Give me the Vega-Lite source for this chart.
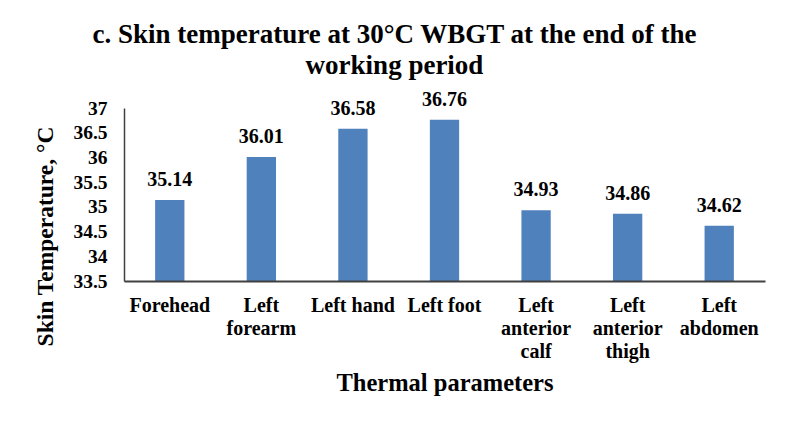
{
  "$schema": "https://vega.github.io/schema/vega-lite/v6.json",
  "autosize": "none",
  "width": 641,
  "height": 173,
  "padding": {"left": 124, "top": 108, "right": 20, "bottom": 142},
  "background": "white",
  "title": {
    "text": ["c. Skin temperature at 30°C WBGT at the end of the", "working period"],
    "font": "Liberation Serif",
    "fontSize": 27,
    "fontWeight": "bold",
    "color": "#000000",
    "anchor": "middle",
    "dx": -50,
    "lineHeight": 31,
    "offset": 10
  },
  "data": {
    "values": [
      {"part": "Forehead", "temp": 35.14},
      {"part": "Left forearm", "temp": 36.01},
      {"part": "Left hand", "temp": 36.58},
      {"part": "Left foot", "temp": 36.76},
      {"part": "Left anterior calf", "temp": 34.93},
      {"part": "Left anterior thigh", "temp": 34.86},
      {"part": "Left abdomen", "temp": 34.62}
    ]
  },
  "encoding": {
    "x": {
      "field": "part",
      "type": "nominal",
      "sort": null,
      "scale": {"paddingInner": 0.68, "paddingOuter": 0.34},
      "axis": {
        "title": "Thermal parameters",
        "titleFont": "Liberation Serif",
        "titleFontSize": 24.5,
        "titleFontWeight": "bold",
        "titleColor": "#000000",
        "titleBaseline": "alphabetic",
        "titleY": 109,
        "labelFont": "Liberation Serif",
        "labelFontSize": 20,
        "labelFontWeight": "bold",
        "labelColor": "#000000",
        "labelAngle": 0,
        "labelBaseline": "alphabetic",
        "labelPadding": 30,
        "labelLineHeight": 23,
        "labelExpr": "datum.value == 'Left forearm' ? ['Left','forearm'] : datum.value == 'Left anterior calf' ? ['Left','anterior','calf'] : datum.value == 'Left anterior thigh' ? ['Left','anterior','thigh'] : datum.value == 'Left abdomen' ? ['Left','abdomen'] : datum.value",
        "ticks": false,
        "domainColor": "#404040",
        "domainWidth": 2,
        "grid": false,
        "zindex": 1
      }
    },
    "y": {
      "field": "temp",
      "type": "quantitative",
      "scale": {"domain": [33.5, 37], "zero": false, "nice": false},
      "axis": {
        "title": "Skin Temperature, °C",
        "titleFont": "Liberation Serif",
        "titleFontSize": 23.5,
        "titleFontWeight": "bold",
        "titleColor": "#000000",
        "titleX": -79,
        "titleY": 128,
        "titleAlign": "center",
        "titleBaseline": "middle",
        "values": [33.5, 34, 34.5, 35, 35.5, 36, 36.5, 37],
        "format": "~g",
        "labelFont": "Liberation Serif",
        "labelFontSize": 19.5,
        "labelFontWeight": "bold",
        "labelColor": "#000000",
        "labelPadding": 17,
        "ticks": false,
        "grid": false,
        "domainColor": "#404040",
        "domainWidth": 1.5
      }
    }
  },
  "layer": [
    {
      "mark": {"type": "bar", "clip": true, "color": "#4F81BD"}
    },
    {
      "mark": {"type": "text", "baseline": "alphabetic", "dy": -14, "font": "Liberation Serif", "fontSize": 20, "fontWeight": "bold", "color": "#000000"},
      "encoding": {
        "text": {"field": "temp", "type": "quantitative", "format": ".2f"}
      }
    }
  ],
  "config": {"view": {"stroke": null}}
}
